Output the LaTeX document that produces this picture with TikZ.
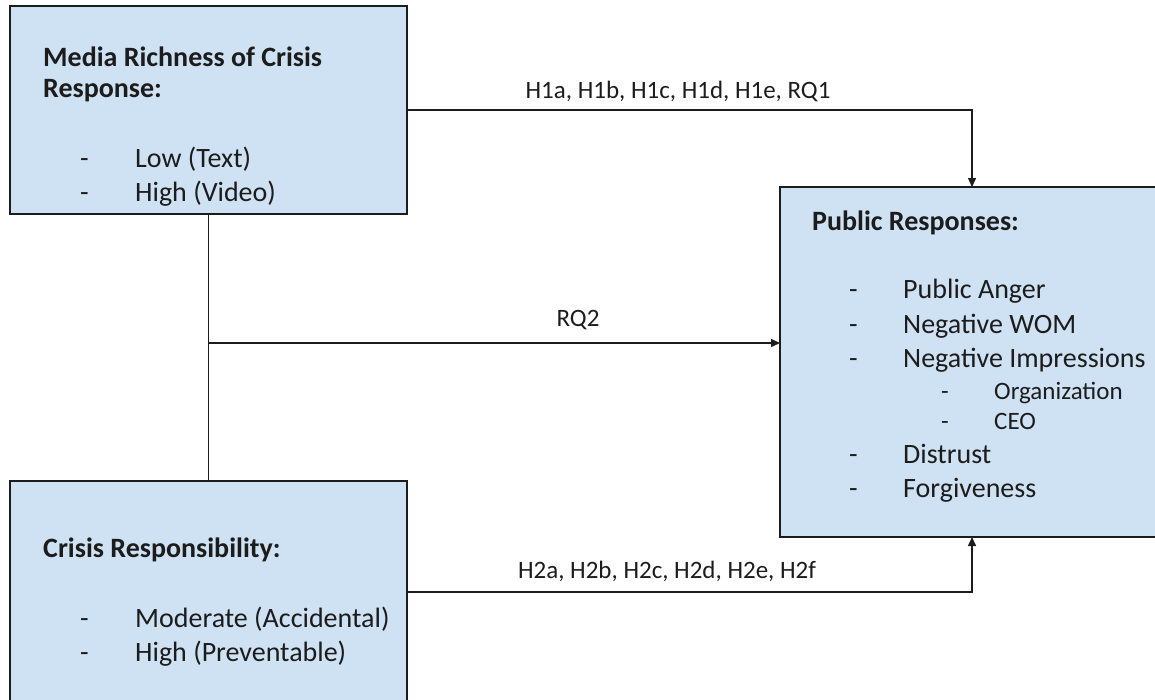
\documentclass[tikz,border=0pt]{standalone}
\usepackage{fontspec}
\setmainfont{Carlito}
\usetikzlibrary{arrows.meta}
\definecolor{boxfill}{HTML}{CFE2F3}
\definecolor{ink}{HTML}{1C1C1C}
\begin{document}
\begin{tikzpicture}[x=1pt,y=-1pt,
  box/.style={draw=ink,line width=1.5pt,fill=boxfill,inner sep=0pt,outer sep=0pt,anchor=north west},
  wire/.style={draw=ink,line width=1.4pt},
  arr/.style={wire,-{Triangle[length=9pt,width=8pt]}},
  txt/.style={anchor=base west,inner sep=0pt,text=ink,font=\fontsize{28}{34}\selectfont},
  ttl/.style={txt,font=\fontsize{28}{34}\selectfont\bfseries},
  sub/.style={txt,font=\fontsize{25}{30}\selectfont},
  lbl/.style={anchor=base,inner sep=0pt,text=ink,font=\fontsize{25}{30}\selectfont}]
\useasboundingbox (0,0) rectangle (1155,699);
\clip (0,0) rectangle (1155,699);

% boxes
\node[box,minimum width=397pt,minimum height=208pt] (media) at (10,6) {};
\node[box,minimum width=397pt,minimum height=222pt] (resp) at (10,481) {};
\node[box,minimum width=384pt,minimum height=350pt] (pub) at (780,187) {};

% box 1 text
\node[ttl] (m1) at (43,66) {Media Richness of Crisis};
\node[ttl] (m2) at (43,97) {Response:};
\node[txt] (md1) at (80,167) {-};
\node[txt] (mi1) at (135,167) {Low (Text)};
\node[txt] (md2) at (80,201) {-};
\node[txt] (mi2) at (135,201) {High (Video)};

% box 2 text
\node[ttl] (r1) at (43,557) {Crisis Responsibility:};
\node[txt] (rd1) at (80,627) {-};
\node[txt] (ri1) at (135,627) {Moderate (Accidental)};
\node[txt] (rd2) at (80,661) {-};
\node[txt] (ri2) at (135,661) {High (Preventable)};

% box 3 text
\node[ttl] (p0) at (812,230) {Public Responses:};
\node[txt] (pd1) at (849,298) {-};
\node[txt] (pi1) at (903,298) {Public Anger};
\node[txt] (pd2) at (849,333) {-};
\node[txt] (pi2) at (903,333) {Negative WOM};
\node[txt] (pd3) at (849,367) {-};
\node[txt] (pi3) at (903,367) {Negative Impressions};
\node[sub] (ps1) at (941,399) {-};
\node[sub] (pj1) at (994,399) {Organization};
\node[sub] (ps2) at (941,429) {-};
\node[sub] (pj2) at (994,429) {CEO};
\node[txt] (pd4) at (849,463) {-};
\node[txt] (pi4) at (903,463) {Distrust};
\node[txt] (pd5) at (849,497) {-};
\node[txt] (pi5) at (903,497) {Forgiveness};

% connectors
\draw[wire] (media.south) -- (resp.north);
\coordinate (junc) at (208.5,343);
\draw[arr] (media.east) -| (pub.north);
\draw[arr] (resp.east) -| (pub.south);
\draw[arr] (junc) -- (junc -| pub.west);

% labels
\node[lbl] (l1) at (678,98) {H1a, H1b, H1c, H1d, H1e, RQ1};
\node[lbl] (l2) at (578,326) {RQ2};
\node[lbl] (l3) at (667,578) {H2a, H2b, H2c, H2d, H2e, H2f};
\end{tikzpicture}
\end{document}
